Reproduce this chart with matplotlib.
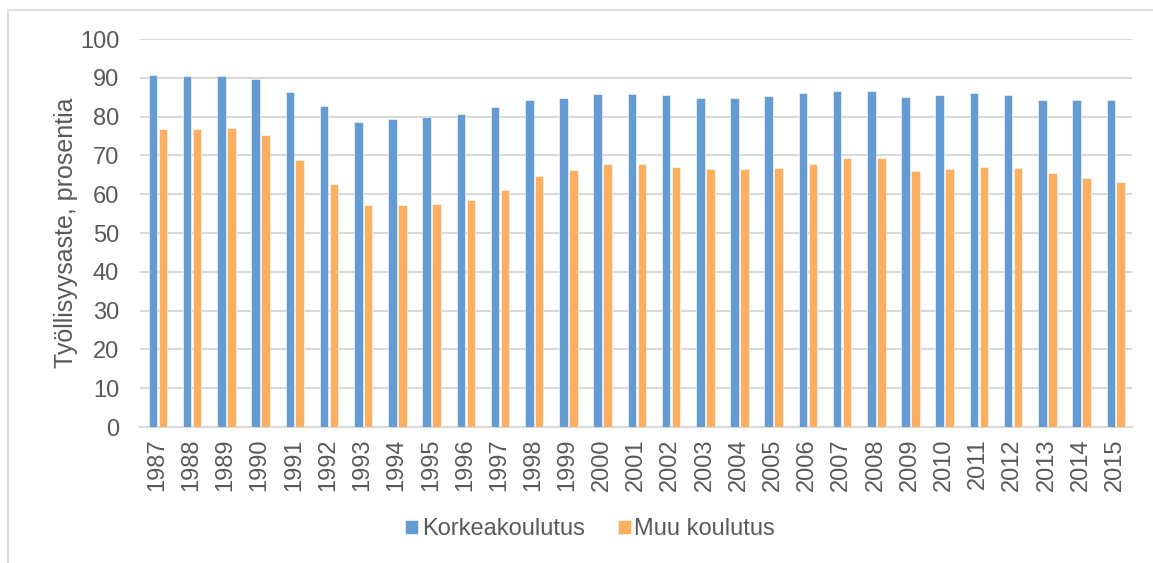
import matplotlib.pyplot as plt
import numpy as np
from matplotlib.patches import Rectangle

vuodet = [str(v) for v in range(1987, 2016)]
korkeakoulutus = [90.7, 90.4, 90.4, 89.7, 86.4, 82.8, 78.5, 79.4, 79.9, 80.6,
                  82.4, 84.2, 84.8, 85.8, 85.8, 85.5, 84.9, 84.9, 85.3, 86.0,
                  86.6, 86.7, 85.1, 85.5, 86.0, 85.6, 84.4, 84.2, 84.2]
muu_koulutus = [76.7, 76.9, 77.0, 75.2, 68.8, 62.7, 57.2, 57.2, 57.6, 58.4,
                61.2, 64.7, 66.2, 67.9, 67.8, 67.0, 66.4, 66.5, 66.7, 67.8,
                69.4, 69.4, 66.0, 66.4, 67.0, 66.7, 65.4, 64.1, 63.1]

plt.rcParams['font.family'] = ['Liberation Sans', 'DejaVu Sans']
harmaa = '#595959'

fig = plt.figure(figsize=(11.53, 5.63), dpi=100)
ax = fig.add_axes([140 / 1153, 1 - 427 / 563, (1132 - 140) / 1153, (427 - 39) / 563])

# kehys koko kaavion ympärillä
fig.patches.append(Rectangle((8 / 1153, -0.05), 1.2, 1 - 10 / 563 + 0.05,
                             transform=fig.transFigure, fill=False,
                             edgecolor='#d9d9d9', linewidth=1.2))

x = np.arange(len(vuodet))
leveys = 0.25
ax.bar(x - 0.12, korkeakoulutus, leveys, color='#659BD3', edgecolor='white',
       linewidth=0.4, label='Korkeakoulutus', zorder=3)
ax.bar(x + 0.17, muu_koulutus, leveys, color='#FDAF61', edgecolor='white',
       linewidth=0.4, label='Muu koulutus', zorder=3)

ax.set_xlim(-0.5, len(vuodet) - 0.5)
ax.set_ylim(0, 100)
ax.set_yticks(range(0, 101, 10))
ax.set_xticks(x)
ax.set_xticklabels(vuodet, rotation=90)
ax.yaxis.grid(True, color='#d9d9d9', linewidth=1.5, zorder=0)
for s in ['top', 'right', 'left']:
    ax.spines[s].set_visible(False)
ax.spines['bottom'].set_color('#d9d9d9')
ax.spines['bottom'].set_linewidth(1.5)
ax.tick_params(axis='both', length=0, labelsize=17, labelcolor=harmaa)
ax.tick_params(axis='y', pad=15)
ax.tick_params(axis='x', pad=8)
ax.set_ylabel('Työllisyysaste, prosentia', fontsize=18, color=harmaa, labelpad=1)

fig.legend(*ax.get_legend_handles_labels(), loc='center',
           bbox_to_anchor=(590 / 1153, 1 - 529 / 563), ncol=2, frameon=False,
           fontsize=17, labelcolor=harmaa, handlelength=0.55, handleheight=0.55,
           handletextpad=0.15, columnspacing=1.4)

fig.savefig('out.png', dpi=100)
